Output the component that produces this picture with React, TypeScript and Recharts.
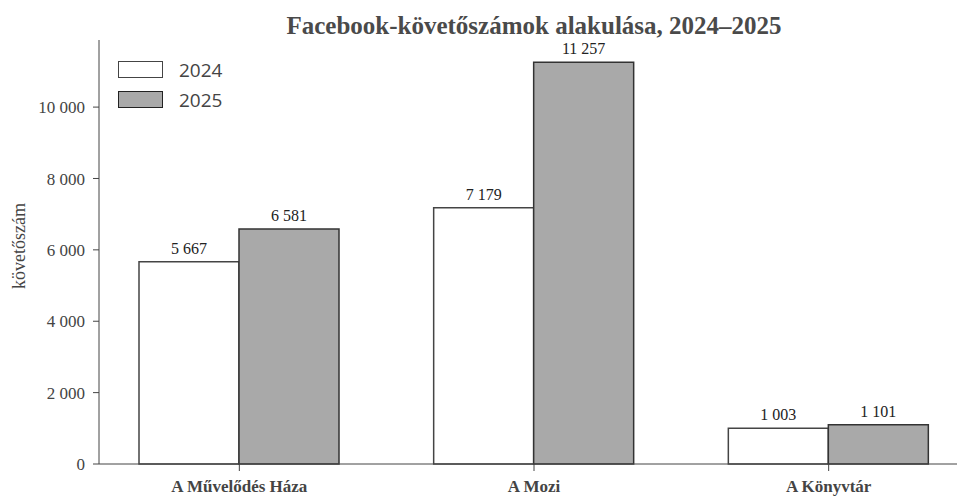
import { BarChart, Bar, XAxis, YAxis, LabelList } from "recharts";

const categories = ["A Művelődés Háza", "A Mozi", "A Könyvtár"];
const values2024 = [5667, 7179, 1003];
const values2025 = [6581, 11257, 1101];
const yTicks = [0, 2000, 4000, 6000, 8000, 10000];

const chartData = categories.map((name, i) => ({
  name,
  y2024: values2024[i],
  y2025: values2025[i],
}));

const fmt = (v: any) => String(v).replace(/\B(?=(\d{3})+(?!\d))/g, " ");

const serif = "'Liberation Serif', 'DejaVu Serif', serif";

export default function App() {
  return (
    <div style={{ position: "relative", width: 957, height: 499, background: "#fff", fontFamily: serif }}>
      <style>{`body{margin:0}`}</style>
      <div
        style={{
          position: "absolute",
          left: 0,
          width: 1068,
          top: 12,
          textAlign: "center",
          fontWeight: "bold",
          fontSize: 25,
          color: "#4a4a4a",
        }}
      >
        Facebook-követőszámok alakulása, 2024–2025
      </div>
      <div
        style={{
          position: "absolute",
          left: 19,
          top: 246,
          transform: "translate(-50%, -50%) rotate(-90deg)",
          fontSize: 18,
          color: "#444",
          whiteSpace: "nowrap",
        }}
      >
        követőszám
      </div>
      {/* legend */}
      <div style={{ position: "absolute", left: 118, top: 61, fontFamily: "'Open Sans', sans-serif", color: "#444", fontSize: 19 }}>
        <div style={{ display: "flex", alignItems: "center", height: 17, marginBottom: 13 }}>
          <div style={{ width: 43, height: 15, border: "1px solid #444", background: "#fff" }} />
          <span style={{ marginLeft: 16 }}>2024</span>
        </div>
        <div style={{ display: "flex", alignItems: "center", height: 17 }}>
          <div style={{ width: 43, height: 15, border: "1.5px solid #222", background: "#a9a9a9" }} />
          <span style={{ marginLeft: 16 }}>2025</span>
        </div>
      </div>
      <BarChart
        width={957}
        height={499}
        data={chartData}
        margin={{ top: 40, right: 0, bottom: 0, left: 0 }}
        barGap={0}
        barSize={100}
      >
        <XAxis
          dataKey="name"
          height={35}
          padding={{ left: -7, right: -19 }}
          stroke="#444"
          tickSize={7}
          tickMargin={9}
          tick={{ fill: "#444", fontSize: 17, fontFamily: serif, fontWeight: "bold" }}
        />
        <YAxis
          domain={[0, 11880]}
          ticks={yTicks}
          width={99}
          stroke="#444"
          tickSize={6}
          tickMargin={8}
          tickFormatter={fmt}
          tick={{ fill: "#444", fontSize: 17, fontFamily: serif }}
        />
        <Bar dataKey="y2024" fill="#ffffff" stroke="#444" strokeWidth={1.5} isAnimationActive={false}>
          <LabelList dataKey="y2024" position="top" offset={8} formatter={fmt} fill="#222" fontSize={16} fontFamily={serif} />
        </Bar>
        <Bar dataKey="y2025" fill="#a9a9a9" stroke="#333" strokeWidth={1.5} isAnimationActive={false}>
          <LabelList dataKey="y2025" position="top" offset={8} formatter={fmt} fill="#222" fontSize={16} fontFamily={serif} />
        </Bar>
      </BarChart>
    </div>
  );
}
